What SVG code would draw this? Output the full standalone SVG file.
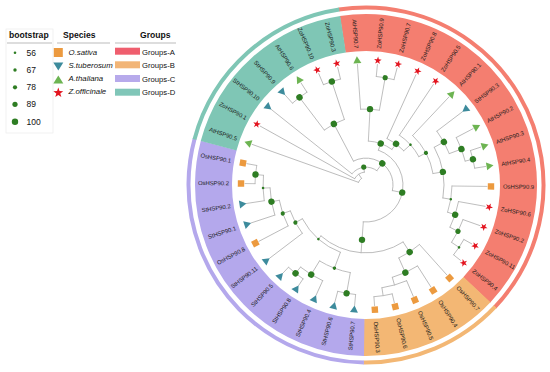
<svg xmlns="http://www.w3.org/2000/svg" xmlns:xlink="http://www.w3.org/1999/xlink" width="550" height="372" viewBox="0 0 550 372">
<style>
.br{stroke:#B3B3B3;stroke-width:0.8;fill:none;stroke-linecap:round}
.bs{fill:#2E7D23}
.lab{font-family:"Liberation Sans",Arial,sans-serif;font-size:5.9px;fill:#1a1a1a;dominant-baseline:central}
.lt{font-family:"Liberation Sans",Arial,sans-serif;font-size:8.6px;font-weight:bold;fill:#111}
.ln{font-family:"Liberation Sans",Arial,sans-serif;font-size:8.5px;fill:#111}
.ls{font-family:"Liberation Sans",Arial,sans-serif;font-size:7.8px;font-style:italic;fill:#111}
.lg{font-family:"Liberation Sans",Arial,sans-serif;font-size:7.7px;fill:#111}
.sq{fill:#EC9A3F}.iv{fill:#3D8B9C}.tr{fill:#6DB452}.st{fill:#E3141F}
</style>
<defs>
<rect id="sq" class="sq" x="-3.2" y="-3.2" width="6.4" height="6.4"/>
<polygon id="tri" class="tr" points="4,0 -3,4 -3,-4"/>
<polygon id="inv" class="iv" points="-4,0 3,4 3,-4"/>
<polygon id="star" class="st" points="4,0 1.29,0.94 1.24,3.8 -0.49,1.52 -3.24,2.35 -1.6,0 -3.24,-2.35 -0.49,-1.52 1.24,-3.8 1.29,-0.94"/>
</defs>
<rect width="550" height="372" fill="#fff"/>

<g id="legend">
<rect x="6" y="29" width="47" height="104" fill="none" stroke="#EEEEEE" stroke-width="0.8"/>
<text class="lt" x="9" y="38">bootstrap</text>
<line x1="7" y1="43" x2="52" y2="43" stroke="#BBBBBB" stroke-width="1"/>
<circle class="bs" cx="15" cy="52.7" r="1.3"/>
<circle class="bs" cx="15" cy="70" r="1.7"/>
<circle class="bs" cx="15" cy="87.3" r="2.1"/>
<circle class="bs" cx="15" cy="104.3" r="2.6"/>
<circle class="bs" cx="15" cy="121.7" r="3.2"/>
<text class="ln" x="26.5" y="55.8">56</text>
<text class="ln" x="26.5" y="73.1">67</text>
<text class="ln" x="26.5" y="90.4">78</text>
<text class="ln" x="26.5" y="107.4">89</text>
<text class="ln" x="26.5" y="124.8">100</text>
<text class="lt" x="63" y="38">Species</text>
<line x1="57" y1="43" x2="110" y2="43" stroke="#BBBBBB" stroke-width="1"/>
<rect class="sq" x="53.8" y="48" width="9" height="9"/>
<polygon class="iv" points="53.3,62.5 63.3,62.5 58.3,70.5"/>
<polygon class="tr" points="58.3,75.5 53.3,83.5 63.3,83.5"/>
<use xlink:href="#star" href="#star" transform="translate(58.3,92.8) rotate(-90) scale(1.3)"/>
<text class="ls" x="68.5" y="55.3">O.sativa</text>
<text class="ls" x="68.5" y="68">S.tuberosum</text>
<text class="ls" x="68.5" y="81">A.thaliana</text>
<text class="ls" x="68.5" y="94.3">Z.officinale</text>
<text class="lt" x="140" y="38">Groups</text>
<line x1="115" y1="43" x2="176" y2="43" stroke="#BBBBBB" stroke-width="1"/>
<rect x="115" y="47.7" width="25" height="7" fill="#EF5E6E"/>
<rect x="115" y="61.3" width="25" height="7" fill="#F2B577"/>
<rect x="115" y="75" width="25" height="7" fill="#B7AAEB"/>
<rect x="115" y="88.7" width="25" height="7" fill="#80C6B8"/>
<text class="lg" x="142" y="54.5">Groups-A</text>
<text class="lg" x="142" y="68">Groups-B</text>
<text class="lg" x="142" y="81.7">Groups-C</text>
<text class="lg" x="142" y="95.3">Groups-D</text>
</g>

<g transform="translate(366,185)">
<g id="bands" fill="none">
<circle r="152.5" stroke="#F47E70" stroke-width="37" stroke-dasharray="378.5 3000" transform="rotate(-98.8)"/>
<circle r="152.5" stroke="#F3B774" stroke-width="37" stroke-dasharray="126.4 3000" transform="rotate(43.3)"/>
<circle r="152.5" stroke="#B4A8EC" stroke-width="37" stroke-dasharray="277.7 3000" transform="rotate(90.67)"/>
<circle r="152.5" stroke="#7FC6B5" stroke-width="37" stroke-dasharray="176.8 3000" transform="rotate(194.88)"/>
<circle r="177.5" stroke="#F47E70" stroke-width="4" stroke-dasharray="440.5 3000" transform="rotate(-98.8)"/>
<circle r="177.5" stroke="#F3B774" stroke-width="4" stroke-dasharray="147 3000" transform="rotate(43.3)"/>
<circle r="177.5" stroke="#B4A8EC" stroke-width="4" stroke-dasharray="323.1 3000" transform="rotate(90.67)"/>
<circle r="177.5" stroke="#7FC6B5" stroke-width="4" stroke-dasharray="205.8 3000" transform="rotate(194.88)"/>
</g>

<g id="connectors">
<!-- arcs -->
<circle class="br" r="8" stroke-dasharray="5.07 3000" transform="rotate(199.63)"/>
<circle class="br" r="13" stroke-dasharray="12.19 3000" transform="rotate(209.10)"/>
<circle class="br" r="18" stroke-dasharray="27.80 3000" transform="rotate(218.58)"/>
<circle class="br" r="27" stroke-dasharray="61.08 3000" transform="rotate(242.26)"/>
<circle class="br" r="37" stroke-dasharray="106.29 3000" transform="rotate(-70.44)"/>
<circle class="br" r="69" stroke-dasharray="22.82 3000" transform="rotate(232.79)"/>
<circle class="br" r="110" stroke-dasharray="18.20 3000" transform="rotate(228.05)"/>
<circle class="br" r="109" stroke-dasharray="18.02 3000" transform="rotate(247.00)"/>
<circle class="br" r="44" stroke-dasharray="25.38 3000" transform="rotate(-86.96)"/>
<circle class="br" r="76" stroke-dasharray="18.84 3000" transform="rotate(-94.06)"/>
<circle class="br" r="109" stroke-dasharray="18.02 3000" transform="rotate(-84.59)"/>
<circle class="br" r="51" stroke-dasharray="20.88 3000" transform="rotate(-65.64)"/>
<circle class="br" r="60" stroke-dasharray="29.30 3000" transform="rotate(-56.17)"/>
<circle class="br" r="68" stroke-dasharray="43.91 3000" transform="rotate(-46.69)"/>
<circle class="br" r="78" stroke-dasharray="52.40 3000" transform="rotate(-28.93)"/>
<circle class="br" r="89" stroke-dasharray="25.75 3000" transform="rotate(-37.22)"/>
<circle class="br" r="102" stroke-dasharray="25.30 3000" transform="rotate(-27.75)"/>
<circle class="br" r="110" stroke-dasharray="18.18 3000" transform="rotate(-18.27)"/>
<circle class="br" r="86" stroke-dasharray="26.67 3000" transform="rotate(0.67)"/>
<circle class="br" r="94" stroke-dasharray="27.20 3000" transform="rotate(10.15)"/>
<circle class="br" r="103" stroke-dasharray="25.56 3000" transform="rotate(19.62)"/>
<circle class="br" r="112" stroke-dasharray="18.51 3000" transform="rotate(29.10)"/>
<circle class="br" r="68" stroke-dasharray="88.40 3000" transform="rotate(56.92)"/>
<circle class="br" r="80" stroke-dasharray="24.80 3000" transform="rotate(48.04)"/>
<circle class="br" r="96" stroke-dasharray="27.78 3000" transform="rotate(57.52)"/>
<circle class="br" r="104" stroke-dasharray="25.79 3000" transform="rotate(66.99)"/>
<circle class="br" r="112" stroke-dasharray="18.53 3000" transform="rotate(76.46)"/>
<circle class="br" r="72" stroke-dasharray="51.76 3000" transform="rotate(110.81)"/>
<circle class="br" r="89" stroke-dasharray="33.12 3000" transform="rotate(100.15)"/>
<circle class="br" r="110" stroke-dasharray="18.20 3000" transform="rotate(95.41)"/>
<circle class="br" r="105" stroke-dasharray="26.06 3000" transform="rotate(114.36)"/>
<circle class="br" r="113" stroke-dasharray="18.68 3000" transform="rotate(123.84)"/>
<circle class="br" r="80" stroke-dasharray="25.58 3000" transform="rotate(142.78)"/>
<circle class="br" r="88" stroke-dasharray="27.25 3000" transform="rotate(152.26)"/>
<circle class="br" r="96" stroke-dasharray="27.76 3000" transform="rotate(161.73)"/>
<circle class="br" r="103" stroke-dasharray="25.55 3000" transform="rotate(171.21)"/>
<circle class="br" r="111" stroke-dasharray="18.35 3000" transform="rotate(180.68)"/>
<!-- internal stems -->
<line class="br" x1="8" x2="13" transform="rotate(235.97)"/>
<line class="br" x1="13" x2="18" transform="rotate(262.83)"/>
<line class="br" x1="18" x2="27" transform="rotate(307.08)"/>
<line class="br" x1="27" x2="37" transform="rotate(11.88)"/>
<line class="br" x1="27" x2="69" transform="rotate(242.26)"/>
<line class="br" x1="69" x2="110" transform="rotate(232.79)"/>
<line class="br" x1="69" x2="109" transform="rotate(251.74)"/>
<line class="br" x1="37" x2="44" transform="rotate(-70.44)"/>
<line class="br" x1="44" x2="76" transform="rotate(-86.96)"/>
<line class="br" x1="76" x2="109" transform="rotate(-79.86)"/>
<line class="br" x1="44" x2="51" transform="rotate(-53.91)"/>
<line class="br" x1="51" x2="60" transform="rotate(-42.18)"/>
<line class="br" x1="60" x2="68" transform="rotate(-28.19)"/>
<line class="br" x1="68" x2="78" transform="rotate(-9.69)"/>
<line class="br" x1="78" x2="89" transform="rotate(-28.93)"/>
<line class="br" x1="89" x2="102" transform="rotate(-20.64)"/>
<line class="br" x1="102" x2="110" transform="rotate(-13.54)"/>
<line class="br" x1="78" x2="86" transform="rotate(9.56)"/>
<line class="br" x1="86" x2="94" transform="rotate(18.44)"/>
<line class="br" x1="94" x2="103" transform="rotate(26.73)"/>
<line class="br" x1="103" x2="112" transform="rotate(33.84)"/>
<line class="br" x1="37" x2="68" transform="rotate(94.16)"/>
<line class="br" x1="68" x2="80" transform="rotate(56.92)"/>
<line class="br" x1="80" x2="96" transform="rotate(65.8)"/>
<line class="br" x1="96" x2="104" transform="rotate(74.1)"/>
<line class="br" x1="104" x2="112" transform="rotate(81.2)"/>
<line class="br" x1="68" x2="72" transform="rotate(131.4)"/>
<line class="br" x1="72" x2="89" transform="rotate(110.81)"/>
<line class="br" x1="89" x2="110" transform="rotate(100.15)"/>
<line class="br" x1="89" x2="105" transform="rotate(121.47)"/>
<line class="br" x1="105" x2="113" transform="rotate(128.58)"/>
<line class="br" x1="72" x2="80" transform="rotate(152.0)"/>
<line class="br" x1="80" x2="88" transform="rotate(161.1)"/>
<line class="br" x1="88" x2="96" transform="rotate(170.0)"/>
<line class="br" x1="96" x2="103" transform="rotate(178.3)"/>
<line class="br" x1="103" x2="111" transform="rotate(185.42)"/>
<!-- leaf branches -->
<line class="br" x1="76" x2="121" transform="rotate(-94.06)"/>
<line class="br" x1="109" x2="121" transform="rotate(-84.59)"/>
<line class="br" x1="109" x2="121" transform="rotate(-75.12)"/>
<line class="br" x1="51" x2="121" transform="rotate(-65.64)"/>
<line class="br" x1="60" x2="121" transform="rotate(-56.17)"/>
<line class="br" x1="68" x2="121" transform="rotate(-46.69)"/>
<line class="br" x1="89" x2="121" transform="rotate(-37.22)"/>
<line class="br" x1="102" x2="121" transform="rotate(-27.75)"/>
<line class="br" x1="110" x2="121" transform="rotate(-18.27)"/>
<line class="br" x1="110" x2="121" transform="rotate(-8.80)"/>
<line class="br" x1="86" x2="121" transform="rotate(0.67)"/>
<line class="br" x1="94" x2="121" transform="rotate(10.15)"/>
<line class="br" x1="103" x2="121" transform="rotate(19.62)"/>
<line class="br" x1="112" x2="121" transform="rotate(29.10)"/>
<line class="br" x1="112" x2="121" transform="rotate(38.57)"/>
<line class="br" x1="80" x2="121" transform="rotate(48.04)"/>
<line class="br" x1="96" x2="121" transform="rotate(57.52)"/>
<line class="br" x1="104" x2="121" transform="rotate(66.99)"/>
<line class="br" x1="112" x2="121" transform="rotate(76.46)"/>
<line class="br" x1="112" x2="121" transform="rotate(85.94)"/>
<line class="br" x1="110" x2="121" transform="rotate(95.41)"/>
<line class="br" x1="110" x2="121" transform="rotate(104.89)"/>
<line class="br" x1="105" x2="121" transform="rotate(114.36)"/>
<line class="br" x1="113" x2="121" transform="rotate(123.84)"/>
<line class="br" x1="113" x2="121" transform="rotate(133.31)"/>
<line class="br" x1="80" x2="121" transform="rotate(142.78)"/>
<line class="br" x1="88" x2="121" transform="rotate(152.26)"/>
<line class="br" x1="96" x2="121" transform="rotate(161.73)"/>
<line class="br" x1="103" x2="121" transform="rotate(171.21)"/>
<line class="br" x1="111" x2="121" transform="rotate(180.68)"/>
<line class="br" x1="111" x2="121" transform="rotate(190.15)"/>
<line class="br" x1="8" x2="121" transform="rotate(199.63)"/>
<line class="br" x1="13" x2="121" transform="rotate(209.10)"/>
<line class="br" x1="18" x2="121" transform="rotate(218.58)"/>
<line class="br" x1="110" x2="121" transform="rotate(228.05)"/>
<line class="br" x1="110" x2="121" transform="rotate(237.53)"/>
<line class="br" x1="109" x2="121" transform="rotate(247.00)"/>
<line class="br" x1="109" x2="121" transform="rotate(256.47)"/>
</g>

<g id="bootstrap" class="bs">
<circle r="2.6" cx="18" transform="rotate(262.83)"/>
<circle r="3.2" cx="27" transform="rotate(307.08)"/>
<circle r="3.2" cx="37" transform="rotate(11.88)"/>
<circle r="3.2" cx="69" transform="rotate(242.26)"/>
<circle r="3.2" cx="110" transform="rotate(232.79)"/>
<circle r="3.2" cx="109" transform="rotate(251.74)"/>
<circle r="3.2" cx="44" transform="rotate(-70.44)"/>
<circle r="3.2" cx="76" transform="rotate(-86.96)"/>
<circle r="2.6" cx="109" transform="rotate(-79.86)"/>
<circle r="3.2" cx="51" transform="rotate(-53.91)"/>
<circle r="1.3" cx="60" transform="rotate(-42.18)"/>
<circle r="2.1" cx="68" transform="rotate(-28.19)"/>
<circle r="3.2" cx="78" transform="rotate(-9.69)"/>
<circle r="3.2" cx="89" transform="rotate(-28.93)"/>
<circle r="3.2" cx="102" transform="rotate(-20.64)"/>
<circle r="3.2" cx="110" transform="rotate(-13.54)"/>
<circle r="1.3" cx="86" transform="rotate(9.56)"/>
<circle r="3.2" cx="94" transform="rotate(18.44)"/>
<circle r="2.6" cx="103" transform="rotate(26.73)"/>
<circle r="1.3" cx="112" transform="rotate(33.84)"/>
<circle r="3.2" cx="55" transform="rotate(94.16)"/>
<circle r="3.2" cx="80" transform="rotate(56.92)"/>
<circle r="3.2" cx="96" transform="rotate(65.8)"/>
<circle r="1.3" cx="72" transform="rotate(131.4)"/>
<circle r="1.7" cx="89" transform="rotate(110.81)"/>
<circle r="3.2" cx="110" transform="rotate(100.15)"/>
<circle r="3.2" cx="105" transform="rotate(121.47)"/>
<circle r="3.2" cx="113" transform="rotate(128.58)"/>
<circle r="2.1" cx="80" transform="rotate(152.0)"/>
<circle r="2.1" cx="88" transform="rotate(161.1)"/>
<circle r="3.2" cx="96" transform="rotate(170.0)"/>
<circle r="1.3" cx="103" transform="rotate(178.3)"/>
<circle r="3.2" cx="111" transform="rotate(185.42)"/>
</g>

<g id="leaves">
<g id="AtHSP90.7" transform="rotate(-94.06)"><use href="#tri" x="125"/><text class="lab" transform="translate(137,0) rotate(180)" text-anchor="end">AtHSP90.7</text></g>
<g id="ZoHSP90.9" transform="rotate(-84.59)"><use href="#star" x="125"/><text class="lab" x="137">ZoHSP90.9</text></g>
<g id="ZoHSP90.7" transform="rotate(-75.12)"><use href="#star" x="125"/><text class="lab" x="137">ZoHSP90.7</text></g>
<g id="ZoHSP90.8" transform="rotate(-65.64)"><use href="#star" x="125"/><text class="lab" x="137">ZoHSP90.8</text></g>
<g id="ZoHSP90.5" transform="rotate(-56.17)"><use href="#star" x="125"/><text class="lab" x="137">ZoHSP90.5</text></g>
<g id="AtHSP90.1" transform="rotate(-46.69)"><use href="#tri" x="125"/><text class="lab" x="137">AtHSP90.1</text></g>
<g id="StHSP90.3" transform="rotate(-37.22)"><use href="#inv" x="125"/><text class="lab" x="137">StHSP90.3</text></g>
<g id="AtHSP90.2" transform="rotate(-27.75)"><use href="#tri" x="125"/><text class="lab" x="137">AtHSP90.2</text></g>
<g id="AtHSP90.3" transform="rotate(-18.27)"><use href="#tri" x="125"/><text class="lab" x="137">AtHSP90.3</text></g>
<g id="AtHSP90.4" transform="rotate(-8.80)"><use href="#tri" x="125"/><text class="lab" x="137">AtHSP90.4</text></g>
<g id="OsHSP90.9" transform="rotate(0.67)"><use href="#sq" x="125"/><text class="lab" x="137">OsHSP90.9</text></g>
<g id="ZoHSP90.6" transform="rotate(10.15)"><use href="#star" x="125"/><text class="lab" x="137">ZoHSP90.6</text></g>
<g id="ZoHSP90.2" transform="rotate(19.62)"><use href="#star" x="125"/><text class="lab" x="137">ZoHSP90.2</text></g>
<g id="ZoHSP90.11" transform="rotate(29.10)"><use href="#star" x="125"/><text class="lab" x="137">ZoHSP90.11</text></g>
<g id="ZoHSP90.4" transform="rotate(38.57)"><use href="#star" x="125"/><text class="lab" x="137">ZoHSP90.4</text></g>
<g id="OsHSP90.7" transform="rotate(48.04)"><use href="#sq" x="125"/><text class="lab" x="137">OsHSP90.7</text></g>
<g id="OsHSP90.4" transform="rotate(57.52)"><use href="#sq" x="125"/><text class="lab" x="137">OsHSP90.4</text></g>
<g id="OsHSP90.5" transform="rotate(66.99)"><use href="#sq" x="125"/><text class="lab" x="137">OsHSP90.5</text></g>
<g id="OsHSP90.6" transform="rotate(76.46)"><use href="#sq" x="125"/><text class="lab" x="137">OsHSP90.6</text></g>
<g id="OsHSP90.3" transform="rotate(85.94)"><use href="#sq" x="125"/><text class="lab" x="137">OsHSP90.3</text></g>
<g id="StHSP90.7" transform="rotate(95.41)"><use href="#inv" x="125"/><text class="lab" transform="translate(137,0) rotate(180)" text-anchor="end">StHSP90.7</text></g>
<g id="StHSP90.6" transform="rotate(104.89)"><use href="#inv" x="125"/><text class="lab" transform="translate(137,0) rotate(180)" text-anchor="end">StHSP90.6</text></g>
<g id="StHSP90.4" transform="rotate(114.36)"><use href="#inv" x="125"/><text class="lab" transform="translate(137,0) rotate(180)" text-anchor="end">StHSP90.4</text></g>
<g id="StHSP90.8" transform="rotate(123.84)"><use href="#inv" x="125"/><text class="lab" transform="translate(137,0) rotate(180)" text-anchor="end">StHSP90.8</text></g>
<g id="StHSP90.5" transform="rotate(133.31)"><use href="#inv" x="125"/><text class="lab" transform="translate(137,0) rotate(180)" text-anchor="end">StHSP90.5</text></g>
<g id="StHSP90.11" transform="rotate(142.78)"><use href="#inv" x="125"/><text class="lab" transform="translate(137,0) rotate(180)" text-anchor="end">StHSP90.11</text></g>
<g id="OsHSP90.8" transform="rotate(152.26)"><use href="#sq" x="125"/><text class="lab" transform="translate(137,0) rotate(180)" text-anchor="end">OsHSP90.8</text></g>
<g id="StHSP90.1" transform="rotate(161.73)"><use href="#inv" x="125"/><text class="lab" transform="translate(137,0) rotate(180)" text-anchor="end">StHSP90.1</text></g>
<g id="StHSP90.2" transform="rotate(171.21)"><use href="#inv" x="125"/><text class="lab" transform="translate(137,0) rotate(180)" text-anchor="end">StHSP90.2</text></g>
<g id="OsHSP90.2" transform="rotate(180.68)"><use href="#sq" x="125"/><text class="lab" transform="translate(137,0) rotate(180)" text-anchor="end">OsHSP90.2</text></g>
<g id="OsHSP90.1" transform="rotate(190.15)"><use href="#sq" x="125"/><text class="lab" transform="translate(137,0) rotate(180)" text-anchor="end">OsHSP90.1</text></g>
<g id="AtHSP90.5" transform="rotate(199.63)"><use href="#tri" x="125"/><text class="lab" transform="translate(137,0) rotate(180)" text-anchor="end">AtHSP90.5</text></g>
<g id="ZoHSP90.1" transform="rotate(209.10)"><use href="#star" x="125"/><text class="lab" transform="translate(137,0) rotate(180)" text-anchor="end">ZoHSP90.1</text></g>
<g id="StHSP90.10" transform="rotate(218.58)"><use href="#inv" x="125"/><text class="lab" transform="translate(137,0) rotate(180)" text-anchor="end">StHSP90.10</text></g>
<g id="StHSP90.9" transform="rotate(228.05)"><use href="#inv" x="125"/><text class="lab" transform="translate(137,0) rotate(180)" text-anchor="end">StHSP90.9</text></g>
<g id="AtHSP90.6" transform="rotate(237.53)"><use href="#tri" x="125"/><text class="lab" transform="translate(137,0) rotate(180)" text-anchor="end">AtHSP90.6</text></g>
<g id="ZoHSP90.10" transform="rotate(247.00)"><use href="#star" x="125"/><text class="lab" transform="translate(137,0) rotate(180)" text-anchor="end">ZoHSP90.10</text></g>
<g id="ZoHSP90.3" transform="rotate(256.47)"><use href="#star" x="125"/><text class="lab" transform="translate(137,0) rotate(180)" text-anchor="end">ZoHSP90.3</text></g>
</g>
</g>
</svg>
